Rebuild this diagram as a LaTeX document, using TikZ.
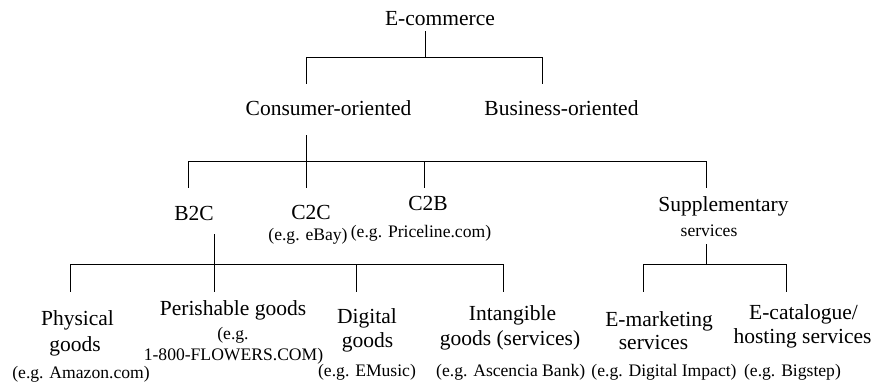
\documentclass[tikz,border=0pt]{standalone}
\usepackage{fontspec}
\setmainfont{Liberation Serif}
\begin{document}
\begin{tikzpicture}[x=1pt,y=-1pt,
  big/.style={font=\fontsize{21.5}{24}\selectfont, inner sep=0pt, anchor=base},
  small/.style={font=\fontsize{17.6}{20}\selectfont, inner sep=0pt, anchor=base},
  link/.style={line width=1pt, line cap=rect}]
\useasboundingbox (0,0) rectangle (873,387);
% level 0
\node[big] (ecom) at (440,26) {E-commerce};
% level 1
\node[big] (cons) at (328.5,116) {Consumer-oriented};
\node[big] (bus) at (561.5,116) {Business-oriented};
% level 2
\node[big] (b2c) at (194,221) {B2C};
\node[big] (c2c) at (311,220) {C2C};
\node[small] (c2cex) at (308,241) {(e.g. eBay)};
\node[big] (c2b) at (428,211) {C2B};
\node[small] (c2bex) at (421,238) {(e.g. Priceline.com)};
\node[big] (supp) at (723.5,212) {Supplementary};
\node[small] (suppb) at (709,237) {services};
% level 3
\node[big] (phys) at (77.5,325.5) {Physical};
\node[big] (physb) at (75,351.5) {goods};
\node[small] (physex) at (81,378) {(e.g. Amazon.com)};
\node[big] (peri) at (233,315.5) {Perishable goods};
\node[small] (perib) at (233,340) {(e.g.};
\node[small] (periex) at (233.5,360) {1-800-FLOWERS.COM)};
\node[big] (digi) at (367,324) {Digital};
\node[big] (digib) at (367.5,347.5) {goods};
\node[small] (digiex) at (367,377) {(e.g. EMusic)};
\node[big] (intg) at (512.5,321) {Intangible};
\node[big] (intgb) at (510,345) {goods (services)};
\node[small] (intgex) at (510.7,376.5) {(e.g. Ascencia Bank)};
\node[big] (emkt) at (659,326.5) {E-marketing};
\node[big] (emktb) at (653.5,350) {services};
\node[small] (emktex) at (664,376.5) {(e.g. Digital Impact)};
\node[big] (ecat) at (803.5,320) {E-catalogue/};
\node[big] (ecatb) at (802.5,343.5) {hosting services};
\node[small] (ecatex) at (792.5,376.5) {(e.g. Bigstep)};
% junction coordinates
\coordinate (j0a) at (425,32);
\coordinate (j0b) at (425,58);
\coordinate (j1a) at (306.5,136);
\coordinate (j1b) at (306.5,162);
\coordinate (j2a) at (214,235);
\coordinate (j2b) at (214,265);
\coordinate (j3a) at (706,245);
\coordinate (j3b) at (706,265);
% level 0 -> 1
\draw[link] (j0a) -- (j0b);
\draw[link] (306.5,84) -- (306.5,58) -- (542,58) -- (542,84);
% level 1 -> 2
\draw[link] (j1a) -- (j1b);
\draw[link] (188,188) -- (188,162) -- (706,162) -- (706,188);
\draw[link] (j1b) -- (306.5,188);
\draw[link] (424,162) -- (424,188);
% B2C -> level 3
\draw[link] (j2a) -- (j2b);
\draw[link] (70,292) -- (70,265) -- (503,265) -- (503,292);
\draw[link] (j2b) -- (214,292);
\draw[link] (356,265) -- (356,292);
% Supplementary -> level 3
\draw[link] (j3a) -- (j3b);
\draw[link] (643,292) -- (643,265) -- (786,265) -- (786,292);
\end{tikzpicture}
\end{document}
